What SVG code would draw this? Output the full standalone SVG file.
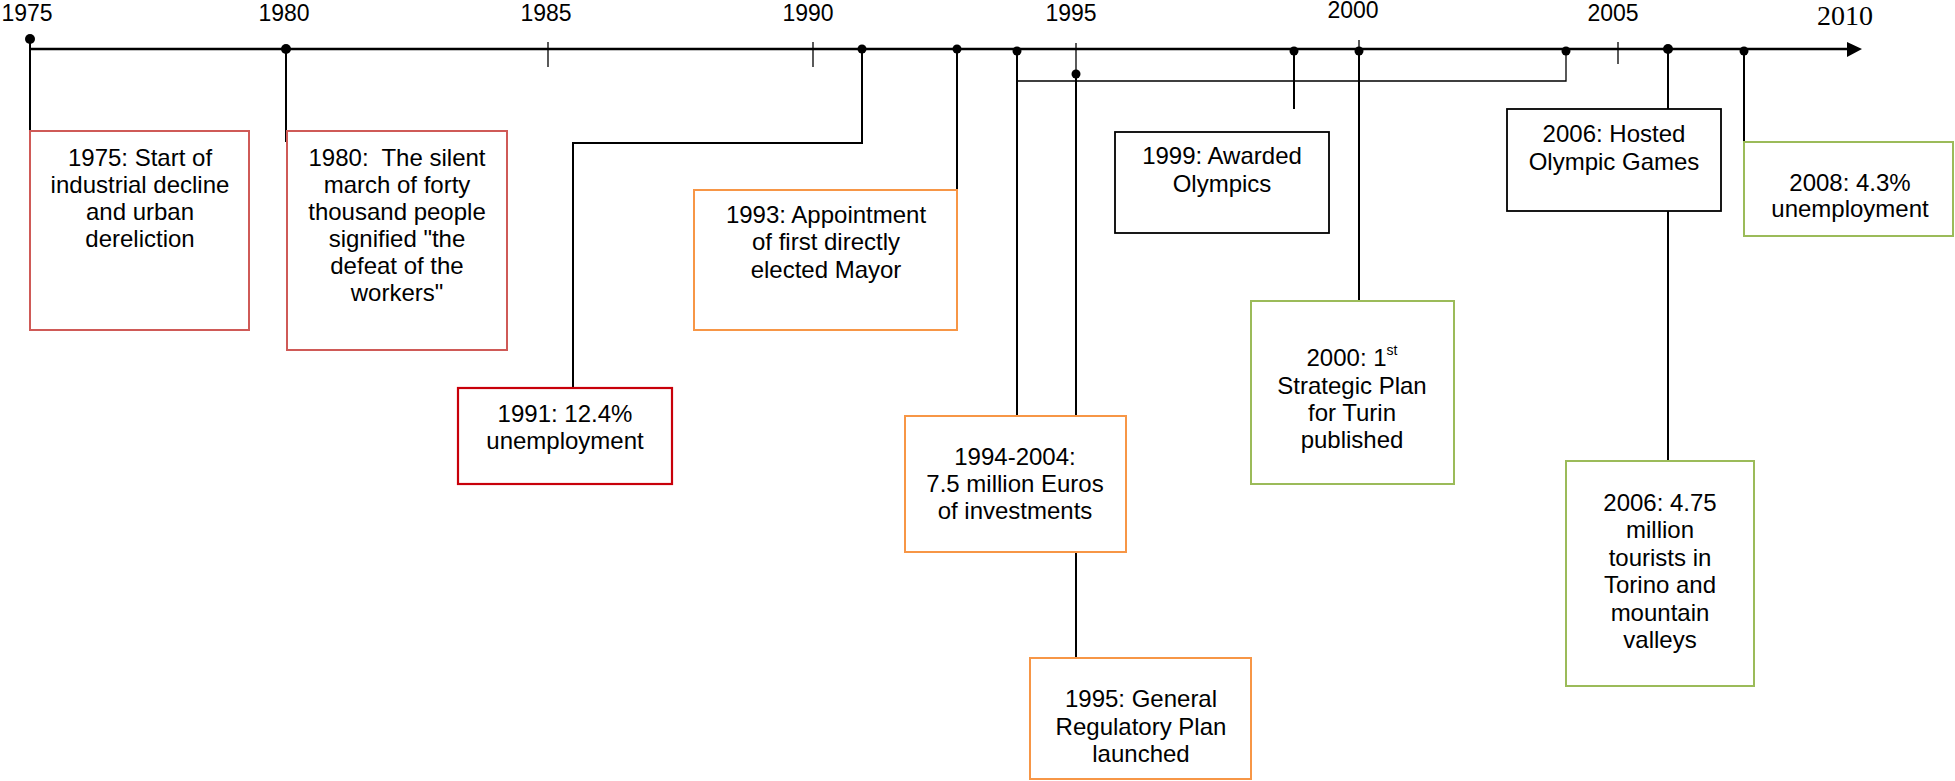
<svg xmlns="http://www.w3.org/2000/svg" width="1955" height="781" viewBox="0 0 1955 781">
<style>
  .yr { font-family: "Liberation Sans", Arial, sans-serif; font-size: 23px; fill: #000; text-anchor: middle; }
  .yr2010 { font-family: "Liberation Serif", "Times New Roman", serif; font-size: 28px; fill: #000; text-anchor: middle; }
  .t { font-family: "Liberation Sans", Arial, sans-serif; font-size: 24px; fill: #000; text-anchor: middle; white-space: pre; }
  .sup { font-size: 14px; }
  .box { fill: #fff; stroke-width: 1.6; }
  .lred { stroke: #cf5a57; stroke-width: 2; }
  .dred { stroke: #c8000a; stroke-width: 2.2; }
  .orange { stroke: #f79646; stroke-width: 2; }
  .green { stroke: #9bbb59; stroke-width: 2; }
  .black { stroke: #000; stroke-width: 1.8; }
  .ln { stroke: #000; stroke-width: 2; fill: none; }
  .thin { stroke: #000; stroke-width: 1.3; fill: none; }
  .dot { fill: #000; }
</style>

<g id="axis">
  <line x1="30" y1="49" x2="1850" y2="49" stroke="#000" stroke-width="2.5"/>
  <polygon points="1847,42 1862,49 1847,57" fill="#000"/>
  <text class="yr" x="27" y="21">1975</text>
  <text class="yr" x="284" y="21">1980</text>
  <text class="yr" x="546" y="21">1985</text>
  <text class="yr" x="808" y="21">1990</text>
  <text class="yr" x="1071" y="21">1995</text>
  <text class="yr" x="1353" y="18">2000</text>
  <text class="yr" x="1613" y="21">2005</text>
  <text class="yr2010" x="1845" y="25">2010</text>
</g>

<g id="connectors">
  <line class="thin" x1="548" y1="42" x2="548" y2="67"/>
  <line class="thin" x1="813" y1="42" x2="813" y2="67"/>
  <line class="thin" x1="1076" y1="43" x2="1076" y2="74"/>
  <line class="thin" x1="1359" y1="40" x2="1359" y2="51"/>
  <line class="thin" x1="1618" y1="42" x2="1618" y2="64"/>

  <line class="ln" x1="30" y1="39" x2="30" y2="131"/>
  <circle class="dot" cx="30" cy="39" r="5"/>

  <line class="ln" x1="286" y1="49" x2="286" y2="142"/>
  <circle class="dot" cx="286" cy="49" r="5"/>

  <polyline class="ln" points="862,49 862,143 573,143 573,388"/>
  <circle class="dot" cx="862" cy="49" r="4.5"/>

  <line class="ln" x1="957" y1="49" x2="957" y2="190"/>
  <circle class="dot" cx="957" cy="49" r="4.5"/>

  <line class="ln" x1="1017" y1="51" x2="1017" y2="416"/>
  <circle class="dot" cx="1017" cy="51" r="4.5"/>

  <polyline class="thin" points="1017,81 1566,81 1566,51"/>
  <circle class="dot" cx="1566" cy="51" r="4.5"/>

  <line class="ln" x1="1076" y1="74" x2="1076" y2="416"/>
  <line class="ln" x1="1076" y1="552" x2="1076" y2="658"/>
  <circle class="dot" cx="1076" cy="74" r="4.5"/>

  <line class="ln" x1="1294" y1="51" x2="1294" y2="109"/>
  <circle class="dot" cx="1294" cy="51" r="4.5"/>

  <line class="ln" x1="1359" y1="51" x2="1359" y2="301"/>
  <circle class="dot" cx="1359" cy="51" r="4.5"/>

  <line class="ln" x1="1668" y1="49" x2="1668" y2="109"/>
  <line class="ln" x1="1668" y1="211" x2="1668" y2="461"/>
  <circle class="dot" cx="1668" cy="49" r="5"/>

  <line class="ln" x1="1744" y1="51" x2="1744" y2="142"/>
  <circle class="dot" cx="1744" cy="51" r="4.5"/>
</g>

<g id="n1975">
  <rect class="box lred" x="30" y="131" width="219" height="199"/>
  <text class="t" x="140" y="166">1975: Start of</text>
  <text class="t" x="140" y="193">industrial decline</text>
  <text class="t" x="140" y="220">and urban</text>
  <text class="t" x="140" y="247">dereliction</text>
</g>

<g id="n1980">
  <rect class="box lred" x="287" y="131" width="220" height="219"/>
  <text class="t" x="397" y="166">1980:  The silent</text>
  <text class="t" x="397" y="193">march of forty</text>
  <text class="t" x="397" y="220">thousand people</text>
  <text class="t" x="397" y="247">signified "the</text>
  <text class="t" x="397" y="274">defeat of the</text>
  <text class="t" x="397" y="301">workers"</text>
</g>

<g id="n1991">
  <rect class="box dred" x="458" y="388" width="214" height="96"/>
  <text class="t" x="565" y="422">1991: 12.4%</text>
  <text class="t" x="565" y="449">unemployment</text>
</g>

<g id="n1993">
  <rect class="box orange" x="694" y="190" width="263" height="140"/>
  <text class="t" x="826" y="223">1993: Appointment</text>
  <text class="t" x="826" y="250">of first directly</text>
  <text class="t" x="826" y="278">elected Mayor</text>
</g>

<g id="n1994">
  <rect class="box orange" x="905" y="416" width="221" height="136"/>
  <text class="t" x="1015" y="465">1994-2004:</text>
  <text class="t" x="1015" y="492">7.5 million Euros</text>
  <text class="t" x="1015" y="519">of investments</text>
</g>

<g id="n1995">
  <rect class="box orange" x="1030" y="658" width="221" height="121"/>
  <text class="t" x="1141" y="707">1995: General</text>
  <text class="t" x="1141" y="735">Regulatory Plan</text>
  <text class="t" x="1141" y="762">launched</text>
</g>

<g id="n1999">
  <rect class="box black" x="1115" y="132" width="214" height="101"/>
  <text class="t" x="1222" y="164">1999: Awarded</text>
  <text class="t" x="1222" y="192">Olympics</text>
</g>

<g id="n2000">
  <rect class="box green" x="1251" y="301" width="203" height="183"/>
  <text class="t" x="1352" y="366">2000: 1<tspan class="sup" dy="-11">st</tspan></text>
  <text class="t" x="1352" y="394">Strategic Plan</text>
  <text class="t" x="1352" y="421">for Turin</text>
  <text class="t" x="1352" y="448">published</text>
</g>

<g id="n2006a">
  <rect class="box black" x="1507" y="109" width="214" height="102"/>
  <text class="t" x="1614" y="142">2006: Hosted</text>
  <text class="t" x="1614" y="170">Olympic Games</text>
</g>

<g id="n2008">
  <rect class="box green" x="1744" y="142" width="209" height="94"/>
  <text class="t" x="1850" y="191">2008: 4.3%</text>
  <text class="t" x="1850" y="217">unemployment</text>
</g>

<g id="n2006b">
  <rect class="box green" x="1566" y="461" width="188" height="225"/>
  <text class="t" x="1660" y="511">2006: 4.75</text>
  <text class="t" x="1660" y="538">million</text>
  <text class="t" x="1660" y="566">tourists in</text>
  <text class="t" x="1660" y="593">Torino and</text>
  <text class="t" x="1660" y="621">mountain</text>
  <text class="t" x="1660" y="648">valleys</text>
</g>
</svg>
